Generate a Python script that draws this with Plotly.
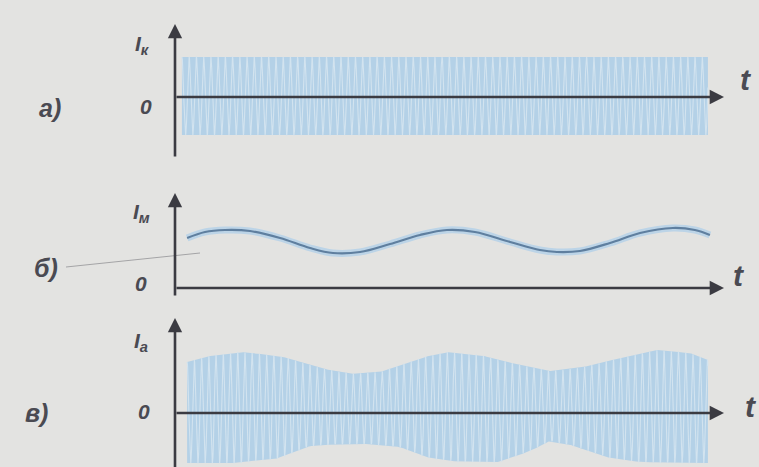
import numpy as np
import plotly.graph_objects as go

W, H = 759, 467
BG = "#e3e3e1"
INK = "#3b3b42"
TXT = "#4a4a52"

# ---- data (time in units of the modulation period T) ----
# panel б: modulating current I_м
mod_t = [0.054, 0.134, 0.223, 0.335, 0.469, 0.603, 0.705, 0.826, 0.960, 1.094, 1.214,
         1.339, 1.496, 1.629, 1.705, 1.808, 1.942, 2.076, 2.223, 2.321, 2.388]
mod_v = [50, 56, 58, 57, 50, 40, 35, 36, 44, 53, 58, 56, 46, 38, 36, 37, 45, 55, 60, 58, 53]

# panel а: carrier amplitude (upper / lower) and span
car_amp_up, car_amp_dn = 40, 38
car_span = [0.031, 2.379]
car_cycles_per_T = 31          # carrier periods per modulation period

# panel в: envelope of the modulated current I_a
env_t_up = [0.054, 0.156, 0.290, 0.469, 0.647, 0.781, 0.915, 1.094, 1.214, 1.362, 1.540,
            1.674, 1.808, 1.987, 2.152, 2.299, 2.379]
env_up = [51, 57, 61, 57, 45, 39, 41, 55, 61, 58, 48, 42, 45, 55, 63, 60, 53]
env_t_dn = [0.054, 0.290, 0.469, 0.603, 0.737, 0.871, 1.004, 1.138, 1.272, 1.451, 1.585,
            1.674, 1.786, 1.942, 2.076, 2.255, 2.379]
env_dn = [50, 50, 45, 33, 31, 31, 34, 45, 49, 49, 38, 28, 33, 45, 49, 50, 50]

# ---- pixel helpers for the layout (x axis: t, 224 px per T, t=0 at px 175) ----
PX0, PXT = 175, 224
x_range = [(0 - PX0) / PXT, (W - PX0) / PXT]
zero_px = {"y": 97, "y2": 288, "y3": 413}


def yr(axis):
    z = zero_px[axis]
    return [-(H - z), z]


def px_x(px):
    return (px - PX0) / PXT


def px_y(axis, py):
    return zero_px[axis] - py


BAND = "#b4d1e7"
STRIPE = "#d2e3ef"

fig = go.Figure()

# panel а carrier
tc = np.linspace(car_span[0], car_span[1], 3000)
c = np.cos(2 * np.pi * car_cycles_per_T * (tc - car_span[0]))
ia = np.where(c > 0, c * car_amp_up, c * car_amp_dn)
fig.add_trace(go.Scatter(x=[car_span[0], car_span[1], car_span[1], car_span[0]],
                         y=[car_amp_up, car_amp_up, -car_amp_dn, -car_amp_dn],
                         fill="toself", fillcolor=BAND, line=dict(width=0),
                         mode="lines", yaxis="y", hoverinfo="skip"))
fig.add_trace(go.Scatter(x=tc, y=ia, mode="lines", line=dict(color=STRIPE, width=1.1),
                         yaxis="y", hoverinfo="skip"))

# panel б modulating signal
fig.add_trace(go.Scatter(x=mod_t, y=mod_v, mode="lines", line=dict(color="#bcd4e7", width=7, shape="spline"),
                         yaxis="y2", hoverinfo="skip"))
fig.add_trace(go.Scatter(x=mod_t, y=mod_v, mode="lines", line=dict(color="#5f7f9f", width=2.2, shape="spline"),
                         yaxis="y2", hoverinfo="skip"))

# panel в modulated carrier
t3 = np.linspace(env_t_up[0], env_t_up[-1], 3000)
up = np.interp(t3, env_t_up, env_up)
dn = np.interp(t3, env_t_dn, env_dn)
c3 = np.cos(2 * np.pi * car_cycles_per_T * (t3 - env_t_up[0]))
i3 = np.where(c3 > 0, c3 * up, c3 * dn)
fig.add_trace(go.Scatter(x=np.concatenate([t3, t3[::-1]]), y=np.concatenate([up, -dn[::-1]]),
                         fill="toself", fillcolor=BAND, line=dict(width=0),
                         mode="lines", yaxis="y3", hoverinfo="skip"))
fig.add_trace(go.Scatter(x=t3, y=i3, mode="lines", line=dict(color=STRIPE, width=1.1),
                         yaxis="y3", hoverinfo="skip"))

# ---- axes drawn as arrows ----
ann = []


def arrow(axis, x_head, y_head, x_tail, y_tail):
    ann.append(dict(x=x_head, y=y_head, ax=x_tail, ay=y_tail, xref="x", yref=axis,
                    axref="x", ayref=axis, text="", showarrow=True, arrowhead=2,
                    arrowsize=1.1, arrowwidth=2.6, arrowcolor=INK))


# vertical axes
arrow("y", 0, px_y("y", 24), 0, px_y("y", 158))
arrow("y2", 0, px_y("y2", 193), 0, px_y("y2", 297))
arrow("y3", 0, px_y("y3", 318), 0, px_y("y3", 470))
# horizontal axes
arrow("y", px_x(724), 0, 0, 0)
arrow("y2", px_x(724), 0, 0, 0)
arrow("y3", px_x(724), 0, 0, 0)


def label(px, py, text, size=20):
    ann.append(dict(x=px / W, y=1 - py / H, xref="paper", yref="paper", text=text, showarrow=False,
                    font=dict(family="Liberation Sans", size=size, color=TXT, style="italic", weight="bold"),
                    xanchor="center", yanchor="middle"))


label(50, 108, "а)", 25)
label(146, 107, "0", 21)
label(142, 45, "I<sub>к</sub>", 21)
label(746, 80, "t", 30)

label(46, 268, "б)", 25)
label(141, 283, "0", 21)
label(141, 213, "I<sub>м</sub>", 21)
label(739, 275, "t", 30)

label(36, 413, "в)", 25)
label(144, 411, "0", 21)
label(141, 342, "I<sub>a</sub>", 21)
label(751, 406, "t", 30)

shapes = [dict(type="line", xref="paper", yref="paper", x0=66 / W, y0=1 - 267 / H, x1=200 / W, y1=1 - 253 / H,
               line=dict(color="#a4a4a6", width=1))]

fig.update_layout(
    width=W, height=H, margin=dict(l=0, r=0, t=0, b=0),
    paper_bgcolor=BG, plot_bgcolor=BG, showlegend=False,
    xaxis=dict(range=x_range, visible=False, domain=[0, 1]),
    yaxis=dict(range=yr("y"), visible=False, domain=[0, 1]),
    yaxis2=dict(range=yr("y2"), visible=False, overlaying="y"),
    yaxis3=dict(range=yr("y3"), visible=False, overlaying="y"),
    annotations=ann, shapes=shapes,
)

fig.write_html("out.html", config={"displayModeBar": False},
               post_script="document.body.style.margin='0px';document.body.style.background='" + BG + "';")
